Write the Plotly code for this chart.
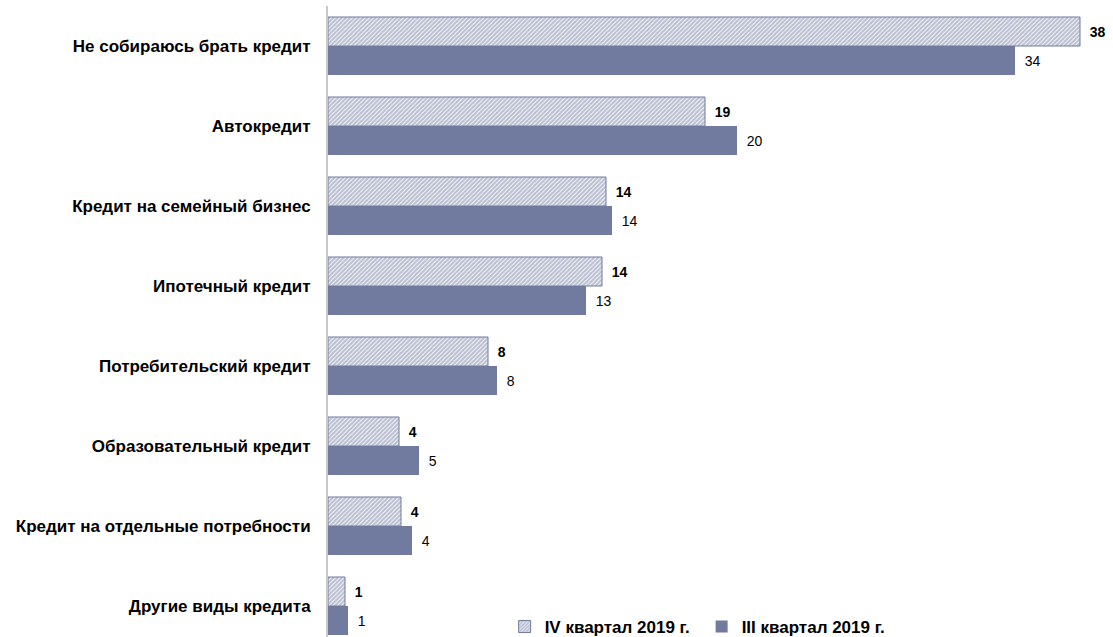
import plotly.graph_objects as go

categories = [
    "Не собираюсь брать кредит",
    "Автокредит",
    "Кредит на семейный бизнес",
    "Ипотечный кредит",
    "Потребительский кредит",
    "Образовательный кредит",
    "Кредит на отдельные потребности",
    "Другие виды кредита",
]
q4_2019 = [37.6, 18.85, 13.9, 13.7, 8.0, 3.55, 3.65, 0.85]
q3_2019 = [34.35, 20.45, 14.2, 12.9, 8.45, 4.55, 4.2, 1.0]
series_names = ["IV квартал 2019 г.", "III квартал 2019 г."]

COLOR = "#717b9f"
FONT = "Liberation Sans, Arial, sans-serif"

fig = go.Figure()
fig.add_trace(go.Bar(
    y=categories, x=q4_2019, orientation="h", name=series_names[0],
    marker=dict(color="white", line=dict(color=COLOR, width=1),
                pattern=dict(shape="/", fgcolor=COLOR, bgcolor="white", size=3, solidity=0.7)),
    texttemplate="\u00a0\u2009<b>%{x:.0f}</b>", textposition="outside",
    textfont=dict(family=FONT, size=14, color="black"), cliponaxis=False,
))
fig.add_trace(go.Bar(
    y=categories, x=q3_2019, orientation="h", name=series_names[1],
    marker=dict(color=COLOR, line=dict(width=0)),
    texttemplate="\u00a0\u2009%{x:.0f}", textposition="outside",
    textfont=dict(family=FONT, size=14, color="black"), cliponaxis=False,
))

fig.update_layout(
    width=1113, height=645,
    margin=dict(l=328, r=0, t=6, b=0),
    barmode="group", bargap=0.275, bargroupgap=0,
    plot_bgcolor="white", paper_bgcolor="white",
    font=dict(family=FONT, size=14, color="black"),
    showlegend=True,
    legend=dict(orientation="h", x=0.225, y=0, xanchor="left", yanchor="bottom",
                font=dict(family=FONT, size=17, color="black", weight="bold"),
                itemwidth=30, entrywidth=152, bgcolor="rgba(0,0,0,0)"),
)
fig.update_xaxes(range=[0, 39.25], visible=False, showgrid=False, zeroline=False)
fig.update_yaxes(type="category", range=[7.4875, -0.5], showgrid=False, zeroline=False,
                 showline=True, linecolor="#c8c8c8", linewidth=2,
                 ticks="", ticklabelstandoff=12,
                 tickfont=dict(family=FONT, size=17, color="black", weight="bold"))

fig.write_html("out.html", config={"displayModeBar": False},
               post_script="document.body.style.margin='0';document.body.style.overflow='hidden';")
